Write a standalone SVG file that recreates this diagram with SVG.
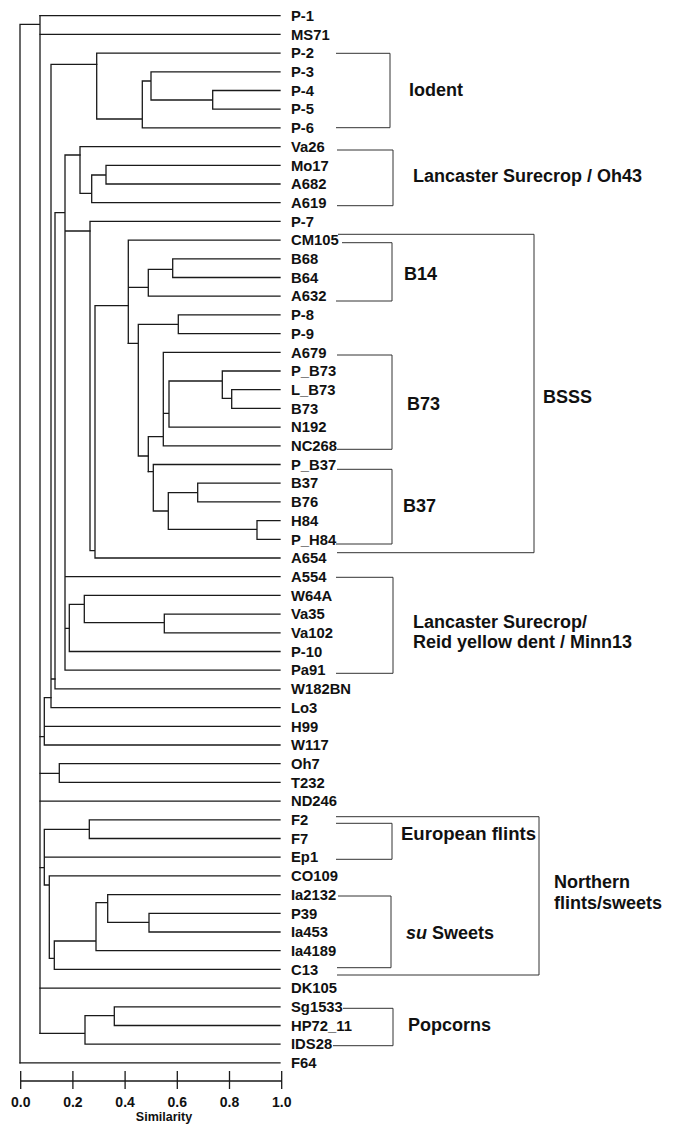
<svg xmlns="http://www.w3.org/2000/svg" width="678" height="1125" viewBox="0 0 678 1125">
<style>
.tree{fill:none;stroke:#1a1a1a;stroke-width:1.3;stroke-linecap:square}
.br{fill:none;stroke:#333;stroke-width:1}
.axis{fill:none;stroke:#1a1a1a;stroke-width:1.3}
.leaf{font-family:"Liberation Sans",Arial,sans-serif;font-weight:bold;font-size:14.8px;fill:#111}
.grp{font-family:"Liberation Sans",Arial,sans-serif;font-weight:bold;font-size:18px;fill:#111}
.tick{font-family:"Liberation Sans",Arial,sans-serif;font-weight:bold;font-size:14px;fill:#111;text-anchor:middle}
.ttl{font-family:"Liberation Sans",Arial,sans-serif;font-weight:bold;font-size:12.5px;fill:#111;text-anchor:middle}
</style>
<rect width="678" height="1125" fill="#fff"/>
<g id="connectors" class="tree">
<path d="M20 24.3V1062.9M20 24.3H40M40 15.7V1033.3"/>
<path d="M40 15.7H280M40 34.4H280"/>
<path d="M51 64.3V707.6M51 64.3H96.7M51 679H55M51 707.6H280"/>
<path d="M96.7 53.1V119M96.7 53.1H280M96.7 119H142.3M142.3 81V127.9M142.3 127.9H280M142.3 81H151M151 71.8V100M151 71.8H280M151 100H212.7M212.7 90.5V109.2M212.7 90.5H280M212.7 109.2H280"/>
<path d="M55 212.7V688.9M55 212.7H65M55 688.9H280M65 155V670.2M65 155H80M65 231H90M65 576.7H280M65 628.3H69.3M65 670.2H280"/>
<path d="M80 146.6V193.3M80 146.6H280M80 193.3H91.7M91.7 175V202.7M91.7 202.7H280M91.7 175H106M106 165.3V184M106 165.3H280M106 184H280"/>
<path d="M90 221.4V550.7M90 221.4H280M90 550.7H95M95 305.7V558M95 558H280M95 305.7H128.3"/>
<path d="M128.3 240.1V343.3M128.3 240.1H280M128.3 287.3H148.3M148.3 269.3V296.2M148.3 296.2H280M148.3 269.3H172.7M172.7 258.8V277.5M172.7 258.8H280M172.7 277.5H280"/>
<path d="M128.3 343.3H138.3M138.3 324.3V456M138.3 324.3H178.3M178.3 314.9V333.6M178.3 314.9H280M178.3 333.6H280M138.3 456H148.3"/>
<path d="M148.3 436.7V471.7M148.3 436.7H163.3M163.3 352.3V445.8M163.3 352.3H280M163.3 445.8H280M163.3 413.3H169M169 381V427.1M169 427.1H280M169 381H222.3M222.3 371V398.3M222.3 371H280M222.3 398.3H231.7M231.7 389.7V408.4M231.7 389.7H280M231.7 408.4H280"/>
<path d="M148.3 471.7H153.3M153.3 464.5V511M153.3 464.5H280M153.3 511H168.3M168.3 492.7V529.3M168.3 492.7H197.7M197.7 483.2V501.9M197.7 483.2H280M197.7 501.9H280M168.3 529.3H257M257 520.6V539.3M257 520.6H280M257 539.3H280"/>
<path d="M69.3 604.3V651.5M69.3 651.5H280M69.3 604.3H84.3M84.3 595.4V622.7M84.3 595.4H280M84.3 622.7H164.3M164.3 614.1V632.8M164.3 614.1H280M164.3 632.8H280"/>
<path d="M40 736.6H44.3M44.3 697.7V745M44.3 697.7H51M44.3 726.3H280M44.3 745H280"/>
<path d="M40 773.3H59.3M59.3 763.7V782.4M59.3 763.7H280M59.3 782.4H280M40 801.1H280"/>
<path d="M40 867.7H44.3M44.3 829.3V885M44.3 829.3H89.3M89.3 819.8V838.5M89.3 819.8H280M89.3 838.5H280M44.3 857.2H280M44.3 885H49.3M49.3 875.9V958.3M49.3 875.9H280M49.3 958.3H54.3M54.3 941V969.4M54.3 969.4H280M54.3 941H96M96 902.7V950.7M96 950.7H280M96 902.7H107.7M107.7 894.6V922.3M107.7 894.6H280M107.7 922.3H149M149 913.3V932M149 913.3H280M149 932H280"/>
<path d="M40 988.1H280M40 1033.3H85M85 1015.7V1044.2M85 1044.2H280M85 1015.7H114.3M114.3 1006.8V1025.5M114.3 1006.8H280M114.3 1025.5H280M20 1062.9H280"/>
</g>
<g id="leaves">
<g id="n-P-1"><text class="leaf" x="291" y="20.9">P-1</text></g>
<g id="n-MS71"><text class="leaf" x="291" y="39.6">MS71</text></g>
<g id="n-P-2"><text class="leaf" x="291" y="58.3">P-2</text></g>
<g id="n-P-3"><text class="leaf" x="291" y="77">P-3</text></g>
<g id="n-P-4"><text class="leaf" x="291" y="95.7">P-4</text></g>
<g id="n-P-5"><text class="leaf" x="291" y="114.4">P-5</text></g>
<g id="n-P-6"><text class="leaf" x="291" y="133.1">P-6</text></g>
<g id="n-Va26"><text class="leaf" x="291" y="151.8">Va26</text></g>
<g id="n-Mo17"><text class="leaf" x="291" y="170.5">Mo17</text></g>
<g id="n-A682"><text class="leaf" x="291" y="189.2">A682</text></g>
<g id="n-A619"><text class="leaf" x="291" y="207.9">A619</text></g>
<g id="n-P-7"><text class="leaf" x="291" y="226.6">P-7</text></g>
<g id="n-CM105"><text class="leaf" x="291" y="245.3">CM105</text></g>
<g id="n-B68"><text class="leaf" x="291" y="264">B68</text></g>
<g id="n-B64"><text class="leaf" x="291" y="282.7">B64</text></g>
<g id="n-A632"><text class="leaf" x="291" y="301.4">A632</text></g>
<g id="n-P-8"><text class="leaf" x="291" y="320.1">P-8</text></g>
<g id="n-P-9"><text class="leaf" x="291" y="338.8">P-9</text></g>
<g id="n-A679"><text class="leaf" x="291" y="357.5">A679</text></g>
<g id="n-P_B73"><text class="leaf" x="291" y="376.2">P_B73</text></g>
<g id="n-L_B73"><text class="leaf" x="291" y="394.9">L_B73</text></g>
<g id="n-B73"><text class="leaf" x="291" y="413.6">B73</text></g>
<g id="n-N192"><text class="leaf" x="291" y="432.3">N192</text></g>
<g id="n-NC268"><text class="leaf" x="291" y="451">NC268</text></g>
<g id="n-P_B37"><text class="leaf" x="291" y="469.7">P_B37</text></g>
<g id="n-B37"><text class="leaf" x="291" y="488.4">B37</text></g>
<g id="n-B76"><text class="leaf" x="291" y="507.1">B76</text></g>
<g id="n-H84"><text class="leaf" x="291" y="525.8">H84</text></g>
<g id="n-P_H84"><text class="leaf" x="291" y="544.5">P_H84</text></g>
<g id="n-A654"><text class="leaf" x="291" y="563.2">A654</text></g>
<g id="n-A554"><text class="leaf" x="291" y="581.9">A554</text></g>
<g id="n-W64A"><text class="leaf" x="291" y="600.6">W64A</text></g>
<g id="n-Va35"><text class="leaf" x="291" y="619.3">Va35</text></g>
<g id="n-Va102"><text class="leaf" x="291" y="638">Va102</text></g>
<g id="n-P-10"><text class="leaf" x="291" y="656.7">P-10</text></g>
<g id="n-Pa91"><text class="leaf" x="291" y="675.4">Pa91</text></g>
<g id="n-W182BN"><text class="leaf" x="291" y="694.1">W182BN</text></g>
<g id="n-Lo3"><text class="leaf" x="291" y="712.8">Lo3</text></g>
<g id="n-H99"><text class="leaf" x="291" y="731.5">H99</text></g>
<g id="n-W117"><text class="leaf" x="291" y="750.2">W117</text></g>
<g id="n-Oh7"><text class="leaf" x="291" y="768.9">Oh7</text></g>
<g id="n-T232"><text class="leaf" x="291" y="787.6">T232</text></g>
<g id="n-ND246"><text class="leaf" x="291" y="806.3">ND246</text></g>
<g id="n-F2"><text class="leaf" x="291" y="825">F2</text></g>
<g id="n-F7"><text class="leaf" x="291" y="843.7">F7</text></g>
<g id="n-Ep1"><text class="leaf" x="291" y="862.4">Ep1</text></g>
<g id="n-CO109"><text class="leaf" x="291" y="881.1">CO109</text></g>
<g id="n-Ia2132"><text class="leaf" x="291" y="899.8">Ia2132</text></g>
<g id="n-P39"><text class="leaf" x="291" y="918.5">P39</text></g>
<g id="n-Ia453"><text class="leaf" x="291" y="937.2">Ia453</text></g>
<g id="n-Ia4189"><text class="leaf" x="291" y="955.9">Ia4189</text></g>
<g id="n-C13"><text class="leaf" x="291" y="974.6">C13</text></g>
<g id="n-DK105"><text class="leaf" x="291" y="993.3">DK105</text></g>
<g id="n-Sg1533"><text class="leaf" x="291" y="1012">Sg1533</text></g>
<g id="n-HP72_11"><text class="leaf" x="291" y="1030.7">HP72_11</text></g>
<g id="n-IDS28"><text class="leaf" x="291" y="1049.4">IDS28</text></g>
<g id="n-F64"><text class="leaf" x="291" y="1068.1">F64</text></g>
</g>
<g id="groups">
<g id="g-iodent"><path class="br" d="M336 53.3H390V127.7H336"/><text class="grp" x="409" y="96">Iodent</text></g>
<g id="g-oh43"><path class="br" d="M337 150H393V205.7H337"/><text class="grp" x="413" y="182">Lancaster Surecrop / Oh43</text></g>
<g id="g-bsss"><path class="br" d="M338 234.3H534V552.7H337"/><text class="grp" x="543" y="403">BSSS</text></g>
<g id="g-b14"><path class="br" d="M342 242.7H392V301H336"/><text class="grp" x="404" y="280">B14</text></g>
<g id="g-b73"><path class="br" d="M337 355H392V449.3H337"/><text class="grp" x="407" y="410">B73</text></g>
<g id="g-b37"><path class="br" d="M337 469.3H392V544H336"/><text class="grp" x="403" y="512">B37</text></g>
<g id="g-reid"><path class="br" d="M336 577.3H393V673.3H336"/><text class="grp" x="413" y="628">Lancaster Surecrop/</text><text class="grp" x="413" y="648">Reid yellow dent / Minn13</text></g>
<g id="g-northern"><path class="br" d="M336 816.7H539V975H337"/><text class="grp" x="554" y="888">Northern</text><text class="grp" x="554" y="909">flints/sweets</text></g>
<g id="g-european"><path class="br" d="M336 823.3H392V859.3H336"/><text class="grp" x="401" y="840" textLength="135" lengthAdjust="spacingAndGlyphs">European flints</text></g>
<g id="g-su"><path class="br" d="M338 896H391V967.7H337"/><text class="grp" x="406" y="939"><tspan font-style="italic">su</tspan> Sweets</text></g>
<g id="g-popcorns"><path class="br" d="M343 1008.3H393V1045.7H333"/><text class="grp" x="408" y="1031">Popcorns</text></g>
</g>
<g id="axis">
<path class="axis" d="M20.7 1081H281.7M20.7 1071V1089M72.9 1071V1089M125.1 1071V1089M177.3 1071V1089M229.5 1071V1089M281.7 1071V1089"/>
<text class="tick" x="20.7" y="1107">0.0</text>
<text class="tick" x="72.9" y="1107">0.2</text>
<text class="tick" x="125.1" y="1107">0.4</text>
<text class="tick" x="177.3" y="1107">0.6</text>
<text class="tick" x="229.5" y="1107">0.8</text>
<text class="tick" x="281.7" y="1107">1.0</text>
<text class="ttl" x="164" y="1120.5">Similarity</text>
</g>
</svg>
